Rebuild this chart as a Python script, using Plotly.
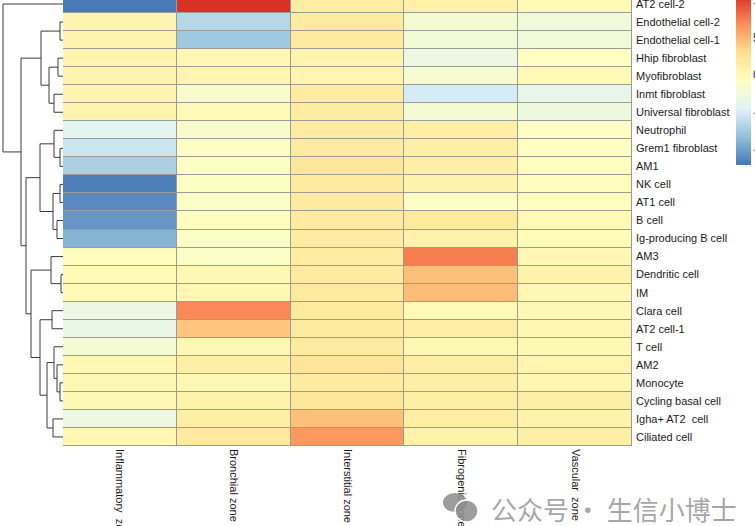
import plotly.graph_objects as go

# ---------------- data ----------------
rows = ["AT2 cell-2", "Endothelial cell-2", "Endothelial cell-1", "Hhip fibroblast",
        "Myofibroblast", "Inmt fibroblast", "Universal fibroblast", "Neutrophil",
        "Grem1 fibroblast", "AM1", "NK cell", "AT1 cell", "B cell",
        "Ig-producing B cell", "AM3", "Dendritic cell", "IM", "Clara cell",
        "AT2 cell-1", "T cell", "AM2", "Monocyte", "Cycling basal cell",
        "Igha+ AT2  cell", "Ciliated cell"]
cols = ["Inflammatory  zone", "Bronchial zone", "Interstitial zone",
        "Fibrogenic zone", "Vascular  zone"]

inflammatory = [-11.8, 0.6, 0.6, 0.6, 0.6, 0.6, 0.6, -4.0, -5.5, -7.0, -11.5, -11.0,
                -10.3, -8.8, -0.5, 0.0, 0.0, -3.0, -3.3, -2.0, 0.3, 0.3, 0.3, -3.0, 0.3]
bronchial = [10.5, -6.5, -7.5, 0.3, 0.5, -1.6, 0.0, -1.6, -1.0, -1.0, -1.0, -1.2,
             -0.5, -1.2, -1.2, 0.2, 0.2, 7.0, 4.3, 0.3, 1.2, 0.3, 0.8, 1.5, 1.8]
interstitial = [1.5, 1.8, 1.8, 0.6, 0.5, 1.6, 1.6, 1.6, 1.8, 2.2, 1.8, 1.8, 1.8, 1.6,
                1.6, 1.8, 1.9, 2.0, 1.8, 1.8, 2.5, 1.8, 2.2, 4.5, 6.3]
fibrogenic = [1.0, -2.0, -2.2, -3.0, -1.8, -5.0, -2.0, 1.2, 1.2, 1.3, 0.8, -1.0, 2.0,
              1.0, 7.5, 4.5, 4.7, 0.0, 1.5, 0.3, 1.5, 1.3, 1.3, 1.5, 0.8]
vascular = [0.0, -2.5, -2.5, -0.8, 0.0, -3.5, -2.8, -1.0, -0.8, -0.5, -0.5, -0.5, 0.0,
            -0.3, 0.2, 0.8, 0.3, 0.2, 0.3, 0.2, 0.5, 0.4, 1.3, 0.8, 1.2]

# hierarchical clustering of rows (scipy-style: leaf ids 0..24, new nodes 25+)
merges = [(1, 2, 3), (3, 4, 5), (5, 6, 9), (26, 27, 14), (25, 28, 22),
          (8, 9, 3), (7, 30, 9), (10, 11, 3), (12, 13, 6), (32, 33, 10),
          (31, 34, 23), (15, 16, 2), (14, 36, 12), (17, 18, 11), (21, 22, 3),
          (20, 39, 6), (19, 40, 9), (23, 24, 10), (41, 42, 16), (38, 43, 23),
          (37, 44, 32), (35, 45, 37), (29, 46, 42), (0, 47, 60)]

colorbar_ticks = [-10, -5, 0, 5, 10]
z_min, z_max = -12.0, 10.6

# ---------------- figure ----------------
W, H = 755, 526
PLOT_H = 446
heat_left, heat_right = 63, 632
z = [list(r) for r in zip(inflammatory, bronchial, interstitial, fibrogenic, vascular)]

palette = ["#4575B4", "#91BFDB", "#E0F3F8", "#FFFFBF", "#FEE090", "#FC8D59", "#D73027"]
colorscale = [[i / (len(palette) - 1), c] for i, c in enumerate(palette)]

fig = go.Figure()
fig.add_trace(go.Heatmap(
    z=z, x=list(range(len(cols))), y=list(range(len(rows))),
    colorscale=colorscale, zmin=z_min, zmax=z_max, xgap=1, ygap=1,
    hoverinfo="skip", showscale=False,
))

# colour key drawn as its own small heatmap (100 colour steps, like pheatmap)
steps = 100
levels = [z_min + (z_max - z_min) * (i + 0.5) / steps for i in range(steps)]
fig.add_trace(go.Heatmap(
    z=[[v] for v in levels], x=[0], y=levels, xaxis="x3", yaxis="y3",
    colorscale=colorscale, zmin=z_min, zmax=z_max, showscale=False,
    hoverinfo="skip",
))

# dendrogram
n = len(rows)
node_y = {i: float(i) for i in range(n)}
node_h = {i: 0.0 for i in range(n)}
for k, (a, b, h) in enumerate(merges):
    xs = [node_h[a], h, h, node_h[b]]
    ys = [node_y[a], node_y[a], node_y[b], node_y[b]]
    fig.add_trace(go.Scatter(x=xs, y=ys, mode="lines", xaxis="x2", yaxis="y",
                             line=dict(color="#3a3a3a", width=1), hoverinfo="skip",
                             showlegend=False))
    node_y[n + k] = (node_y[a] + node_y[b]) / 2
    node_h[n + k] = h

root_h = merges[-1][2]
font = dict(family="Liberation Sans, Arial", size=11, color="#1a1a1a")

# colour key geometry: bottom at 165 px, 7.5 px per unit
key_bottom_px = 165
key_top_val = z_min + key_bottom_px / 7.5

fig.update_layout(
    width=W, height=H,
    margin=dict(l=0, r=0, t=0, b=H - PLOT_H, pad=0, autoexpand=False),
    paper_bgcolor="white", plot_bgcolor="white",
    showlegend=False,
    xaxis=dict(domain=[heat_left / W, heat_right / W], range=[-0.5, len(cols) - 0.5],
               tickvals=list(range(len(cols))), ticktext=cols, tickangle=90,
               ticks="", showgrid=False, zeroline=False, showline=False,
               tickfont=font, automargin=False, ticklabelstandoff=2,
               ticklabeloverflow="allow"),
    yaxis=dict(range=[n - 0.5, -0.5 + 5 / 18.04], side="right",
               tickvals=list(range(n)), ticktext=rows, ticks="",
               showgrid=False, zeroline=False, showline=False,
               tickfont=font, automargin=False, ticklabelstandoff=3,
               ticklabeloverflow="allow"),
    xaxis2=dict(domain=[0, heat_left / W], range=[root_h + 3, 0], anchor="y",
                visible=False, showgrid=False, zeroline=False),
    xaxis3=dict(domain=[736 / W, 751 / W], anchor="y3", visible=False,
                range=[-0.5, 0.5], showgrid=False, zeroline=False),
    yaxis3=dict(domain=[(PLOT_H - key_bottom_px) / PLOT_H, 1], anchor="x3",
                range=[z_min, key_top_val], side="right",
                tickvals=colorbar_ticks, ticks="", showgrid=False, zeroline=False,
                showline=False, automargin=False, ticklabelstandoff=1,
                ticklabeloverflow="allow",
                tickfont=dict(family="Liberation Sans, Arial", size=12, color="#333333")),
    shapes=[
        dict(type="rect", xref="x", yref="y", x0=-0.5, x1=len(cols) - 0.5,
             y0=-0.5, y1=n - 0.5, fillcolor="#9c9c94",
             line=dict(color="#9c9c94", width=1), layer="below"),
        dict(type="circle", xref="paper", yref="paper",
             x0=443 / W, x1=467 / W, y0=(PLOT_H - 512) / PLOT_H, y1=(PLOT_H - 493) / PLOT_H,
             fillcolor="rgba(140,140,140,0.85)", line=dict(width=0)),
        dict(type="circle", xref="paper", yref="paper",
             x0=455 / W, x1=478 / W, y0=(PLOT_H - 522) / PLOT_H, y1=(PLOT_H - 500) / PLOT_H,
             fillcolor="rgba(140,140,140,0.85)", line=dict(color="white", width=1.5)),
    ],
    annotations=[dict(text="公众号 · 生信小博士", xref="paper", yref="paper",
                      x=489 / W, y=(PLOT_H - 508) / PLOT_H, xanchor="left", yanchor="middle",
                      showarrow=False,
                      font=dict(family="Noto Sans CJK SC", size=26,
                                color="rgba(150,150,150,0.85)"))],
)

fig.write_html("out.html", config={"displayModeBar": False},
               post_script="document.body.style.margin='0';document.body.style.overflow='hidden';")
